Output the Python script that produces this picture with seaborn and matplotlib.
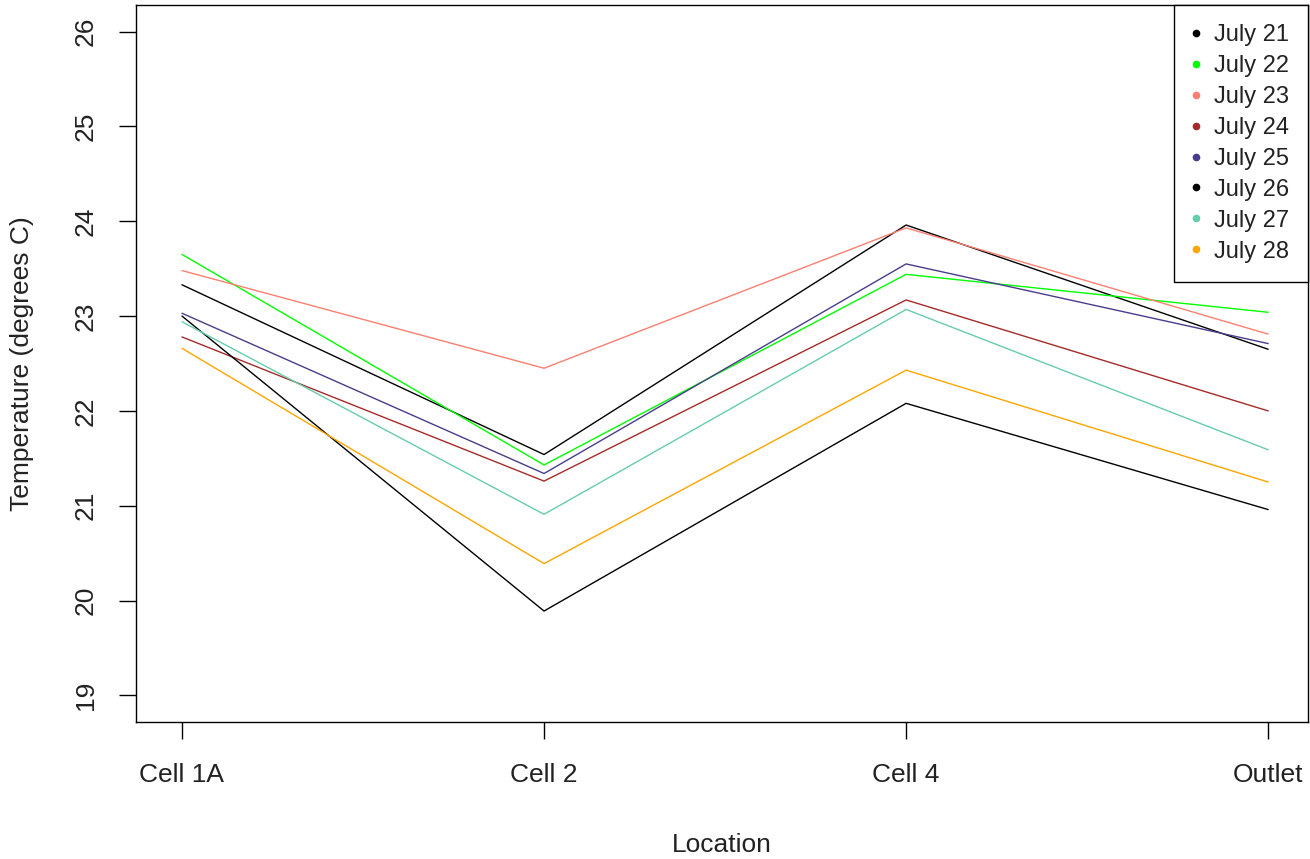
import matplotlib
matplotlib.use("Agg")
import matplotlib.pyplot as plt
from matplotlib.lines import Line2D
import seaborn as sns
import pandas as pd

# Sampling locations along the treatment train
locations = ["Cell 1A", "Cell 2", "Cell 4", "Outlet"]

# Daily temperatures (degrees C) at each location
dates = ["July 21", "July 22", "July 23", "July 24",
         "July 25", "July 26", "July 27", "July 28"]
july21 = [23.33, 21.54, 23.96, 22.65]
july22 = [23.65, 21.43, 23.44, 23.04]
july23 = [23.48, 22.45, 23.93, 22.81]
july24 = [22.78, 21.26, 23.17, 22.00]
july25 = [23.03, 21.34, 23.55, 22.71]
july26 = [23.00, 19.89, 22.08, 20.96]
july27 = [22.94, 20.91, 23.07, 21.59]
july28 = [22.66, 20.39, 22.43, 21.25]
series = [july21, july22, july23, july24, july25, july26, july27, july28]

colors = ["#000000", "#00FF00", "#FA8072", "#A52A2A",
          "#483D8B", "#000000", "#66CDAA", "#FFA500"]

y_ticks = [19, 20, 21, 22, 23, 24, 25, 26]

rows = []
for d, vals in zip(dates, series):
    for loc, v in zip(locations, vals):
        rows.append({"Date": d, "Location": loc, "Temperature": v})
df = pd.DataFrame(rows)

sns.set_theme(style="white")
plt.rcParams["font.family"] = ["Liberation Sans", "DejaVu Sans"]

fig = plt.figure(figsize=(13.1, 8.59), dpi=100)
ax = fig.add_axes([136 / 1310, 1 - 722 / 859, (1308 - 136) / 1310, (722 - 5) / 859])

palette = dict(zip(dates, colors))
sns.lineplot(data=df, x="Location", y="Temperature", hue="Date",
             palette=palette, hue_order=dates, sort=False,
             linewidth=1.0, legend=False, ax=ax)

ax.set_xlim(-0.127, 3.11)
ax.set_ylim(18.72, 26.28)
ax.set_xticks(range(len(locations)))
ax.set_xticklabels(locations)
ax.set_yticks(y_ticks)
ax.set_yticklabels([str(t) for t in y_ticks], rotation=90, va="center")

ax.tick_params(axis="both", which="major", direction="out", length=12.5,
               width=1.0, color="black", labelsize=19,
               labelcolor="#222222", left=True, bottom=True)
ax.tick_params(axis="x", pad=17)
ax.tick_params(axis="y", pad=15)
for s in ax.spines.values():
    s.set_visible(True)
    s.set_color("black")
    s.set_linewidth(1.0)

ax.set_xlabel("Location", fontsize=19, color="#222222", labelpad=33)
ax.set_ylabel("Temperature (degrees C)", fontsize=19, color="#222222", labelpad=29)
ax.grid(False)

handles = [Line2D([], [], linestyle="none", marker="o", markersize=4.5,
                  markerfacecolor=c, markeredgecolor=c) for c in colors]
leg = ax.legend(handles, dates, loc="upper right", borderaxespad=0,
                fontsize=17, frameon=True, fancybox=False, framealpha=1,
                edgecolor="black", handlelength=0.3, handletextpad=0.6,
                labelspacing=0.38, borderpad=0.8)
leg.get_frame().set_linewidth(1.0)
for t in leg.get_texts():
    t.set_color("#222222")

fig.savefig("out.png", dpi=100)
